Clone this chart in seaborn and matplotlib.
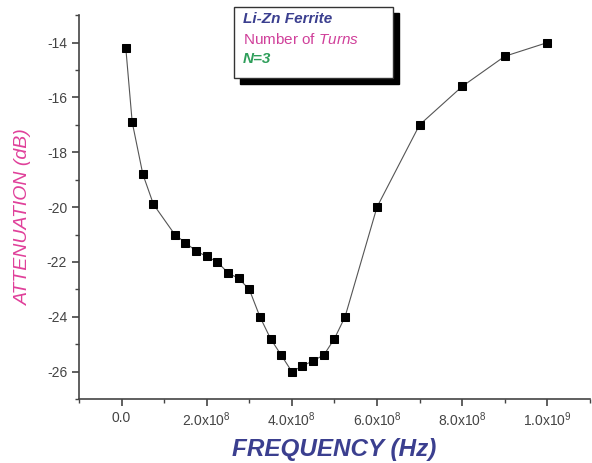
import matplotlib
matplotlib.use("Agg")
import matplotlib.pyplot as plt
import seaborn as sns
import pandas as pd
from matplotlib.ticker import FixedLocator, MultipleLocator
from matplotlib.patches import Rectangle

freq_hz = [1.0e7, 2.5e7, 5.0e7, 7.5e7, 1.25e8, 1.5e8, 1.75e8, 2.0e8, 2.25e8, 2.5e8,
           2.75e8, 3.0e8, 3.25e8, 3.5e8, 3.75e8, 4.0e8, 4.25e8, 4.5e8, 4.75e8, 5.0e8,
           5.25e8, 6.0e8, 7.0e8, 8.0e8, 9.0e8, 1.0e9]
attenuation_db = [-14.2, -16.9, -18.8, -19.9, -21.0, -21.3, -21.6, -21.8, -22.0, -22.4,
                  -22.6, -23.0, -24.0, -24.8, -25.4, -26.0, -25.8, -25.6, -25.4, -24.8,
                  -24.0, -20.0, -17.0, -15.6, -14.5, -14.0]
x_ticks = [0.0, 2.0e8, 4.0e8, 6.0e8, 8.0e8, 1.0e9]
x_tick_labels = ["0.0", r"2.0x10$^{8}$", r"4.0x10$^{8}$", r"6.0x10$^{8}$", r"8.0x10$^{8}$", r"1.0x10$^{9}$"]
y_ticks = [-26, -24, -22, -20, -18, -16, -14]

df = pd.DataFrame({"freq": freq_hz, "att": attenuation_db})

sns.set_style("ticks")
plt.rcParams['font.family'] = ['Liberation Sans', 'DejaVu Sans']
plt.rcParams['mathtext.fontset'] = 'custom'
plt.rcParams['mathtext.rm'] = 'Liberation Sans'
plt.rcParams['mathtext.it'] = 'Liberation Sans:italic'

fig = plt.figure(figsize=(5.92, 4.63), dpi=100)
ax = fig.add_axes([0.1334, 0.1382, 0.863, 0.829])

sns.lineplot(data=df, x="freq", y="att", ax=ax, color="#555555", linewidth=0.8,
             marker="s", markersize=6, markerfacecolor="black", markeredgecolor="black")

ax.set_xlim(-1.0e8, 1.1e9)
ax.set_ylim(-27, -13)
ax.xaxis.set_major_locator(FixedLocator(x_ticks))
ax.set_xticklabels(x_tick_labels)
ax.xaxis.set_minor_locator(MultipleLocator(1.0e8))
ax.set_yticks(y_ticks)
ax.set_yticklabels([str(v) for v in y_ticks])
ax.yaxis.set_minor_locator(MultipleLocator(1))

for s in ["top", "right"]:
    ax.spines[s].set_visible(False)
for s in ["left", "bottom"]:
    ax.spines[s].set_color("#444444")
    ax.spines[s].set_linewidth(1.2)
ax.tick_params(axis="both", which="major", direction="out", length=5, width=1.2,
               colors="#444444", labelsize=10, labelcolor="#444444")
ax.tick_params(axis="both", which="minor", direction="out", length=3, width=1.0, colors="#444444")

ax.set_xlabel("FREQUENCY (Hz)", fontsize=17.5, fontweight="bold", fontstyle="italic",
              color="#3b3f8f", labelpad=6)
ax.set_ylabel("ATTENUATION (dB)", fontsize=14, fontstyle="italic", color="#e0409a", labelpad=6)
ax.yaxis.set_label_coords(-0.092, 0.474)

# legend-like text box with shadow
bx0, by0, bw, bh = 234 / 592, 1 - 78 / 463, 159 / 592, 71 / 463
fig.patches.append(Rectangle((bx0 + 6 / 592, by0 - 6 / 463), bw, bh, transform=fig.transFigure,
                             facecolor="black", edgecolor="black", zorder=5))
fig.patches.append(Rectangle((bx0, by0), bw, bh, transform=fig.transFigure,
                             facecolor="white", edgecolor="#333333", linewidth=1.0, zorder=6))
tx = bx0 + 9 / 592
fig.text(tx, 1 - 19 / 463, "Li-Zn Ferrite", fontsize=11, fontweight="bold", fontstyle="italic",
         color="#3b3f8f", va="center", zorder=7)
fig.text(tx, 1 - 40 / 463, r"Number of $\it{Turns}$", fontsize=11, color="#d0409a",
         va="center", zorder=7)
fig.text(tx, 1 - 59 / 463, "N=3", fontsize=11, fontweight="bold", fontstyle="italic",
         color="#2e9e5a", va="center", zorder=7)

fig.savefig("out.png", dpi=100)
